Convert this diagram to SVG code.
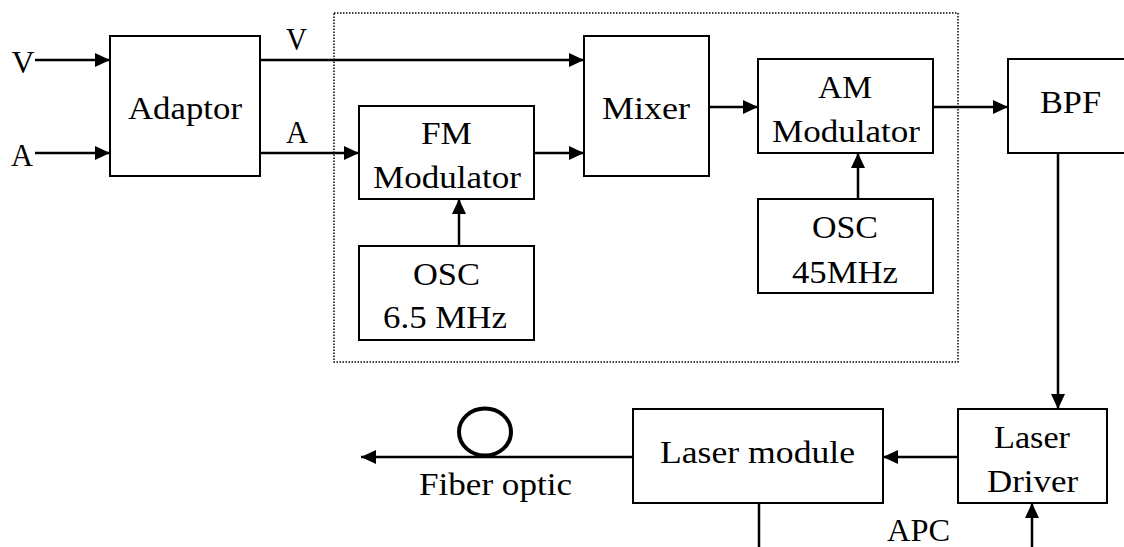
<svg xmlns="http://www.w3.org/2000/svg" width="1124" height="547" viewBox="0 0 1124 547">
<defs>
<marker id="ah" markerUnits="userSpaceOnUse" markerWidth="16" markerHeight="14" refX="15" refY="7" orient="auto">
<path d="M0,0 L15,7 L0,14 z" fill="#000"/>
</marker>
<style>
.box{fill:#fff;stroke:#000;stroke-width:2}
.ln{fill:none;stroke:#000;stroke-width:2.5}
.t{font-family:"Liberation Serif","Times New Roman",serif;font-size:32px;fill:#000;text-anchor:middle}
</style>
</defs>
<rect width="1124" height="547" fill="#fff"/>
<rect id="group-box" x="334" y="13" width="624" height="349" fill="none" stroke="#000" stroke-width="1.5" stroke-dasharray="1.5 1.5"/>
<g id="connectors">
<line class="ln" x1="35" y1="60" x2="110" y2="60" marker-end="url(#ah)"/>
<line class="ln" x1="35" y1="153" x2="110" y2="153" marker-end="url(#ah)"/>
<line class="ln" x1="260" y1="60" x2="584" y2="60" marker-end="url(#ah)"/>
<line class="ln" x1="260" y1="153" x2="359" y2="153" marker-end="url(#ah)"/>
<line class="ln" x1="534" y1="153" x2="584" y2="153" marker-end="url(#ah)"/>
<line class="ln" x1="709" y1="107" x2="758" y2="107" marker-end="url(#ah)"/>
<line class="ln" x1="933" y1="107" x2="1008" y2="107" marker-end="url(#ah)"/>
<line class="ln" x1="459" y1="246" x2="459" y2="199" marker-end="url(#ah)"/>
<line class="ln" x1="858" y1="199" x2="858" y2="153" marker-end="url(#ah)"/>
<line class="ln" x1="1058" y1="153" x2="1058" y2="409" marker-end="url(#ah)"/>
<line class="ln" x1="958" y1="457" x2="883" y2="457" marker-end="url(#ah)"/>
<line class="ln" x1="633" y1="457" x2="361" y2="457" stroke-width="4" marker-end="url(#ah)"/>
<ellipse cx="485" cy="432" rx="26" ry="23.5" fill="none" stroke="#000" stroke-width="4"/>
<line class="ln" x1="759" y1="503" x2="759" y2="547"/>
<line class="ln" x1="1032" y1="547" x2="1032" y2="503" marker-end="url(#ah)"/>
</g>
<g id="labels">
<text class="t" x="23" y="73" textLength="23" lengthAdjust="spacingAndGlyphs">V</text>
<text class="t" x="22" y="166" textLength="22" lengthAdjust="spacingAndGlyphs">A</text>
<text class="t" x="296.5" y="50" textLength="21" lengthAdjust="spacingAndGlyphs">V</text>
<text class="t" x="297" y="143" textLength="22" lengthAdjust="spacingAndGlyphs">A</text>
<text class="t" x="495.5" y="495" textLength="153" lengthAdjust="spacingAndGlyphs">Fiber optic</text>
<text class="t" x="918.5" y="541" textLength="63" lengthAdjust="spacingAndGlyphs">APC</text>
</g>
<g id="adaptor">
<rect class="box" x="110" y="36" width="150" height="140"/>
<text class="t" x="185" y="119" textLength="114" lengthAdjust="spacingAndGlyphs">Adaptor</text>
</g>
<g id="fm-modulator">
<rect class="box" x="359" y="106" width="175" height="93"/>
<text class="t" x="446.5" y="144" textLength="51" lengthAdjust="spacingAndGlyphs">FM</text>
<text class="t" x="447" y="188" textLength="148" lengthAdjust="spacingAndGlyphs">Modulator</text>
</g>
<g id="osc-6-5">
<rect class="box" x="359" y="246" width="175" height="94"/>
<text class="t" x="446.5" y="285" textLength="67" lengthAdjust="spacingAndGlyphs">OSC</text>
<text class="t" x="445" y="328" textLength="124" lengthAdjust="spacingAndGlyphs">6.5 MHz</text>
</g>
<g id="mixer">
<rect class="box" x="584" y="36" width="125" height="140"/>
<text class="t" x="646" y="119" textLength="88" lengthAdjust="spacingAndGlyphs">Mixer</text>
</g>
<g id="am-modulator">
<rect class="box" x="758" y="59" width="175" height="94"/>
<text class="t" x="845" y="98" textLength="54" lengthAdjust="spacingAndGlyphs">AM</text>
<text class="t" x="846" y="142" textLength="148" lengthAdjust="spacingAndGlyphs">Modulator</text>
</g>
<g id="osc-45">
<rect class="box" x="758" y="199" width="175" height="94"/>
<text class="t" x="845" y="238" textLength="66" lengthAdjust="spacingAndGlyphs">OSC</text>
<text class="t" x="845" y="283" textLength="106" lengthAdjust="spacingAndGlyphs">45MHz</text>
</g>
<g id="bpf">
<rect class="box" x="1008" y="59" width="130" height="94"/>
<text class="t" x="1070.5" y="113" textLength="61" lengthAdjust="spacingAndGlyphs">BPF</text>
</g>
<g id="laser-module">
<rect class="box" x="633" y="409" width="250" height="94"/>
<text class="t" x="757.5" y="463" textLength="195" lengthAdjust="spacingAndGlyphs">Laser module</text>
</g>
<g id="laser-driver">
<rect class="box" x="958" y="409" width="149" height="94"/>
<text class="t" x="1032" y="448" textLength="76" lengthAdjust="spacingAndGlyphs">Laser</text>
<text class="t" x="1032.5" y="492" textLength="91" lengthAdjust="spacingAndGlyphs">Driver</text>
</g>
</svg>
